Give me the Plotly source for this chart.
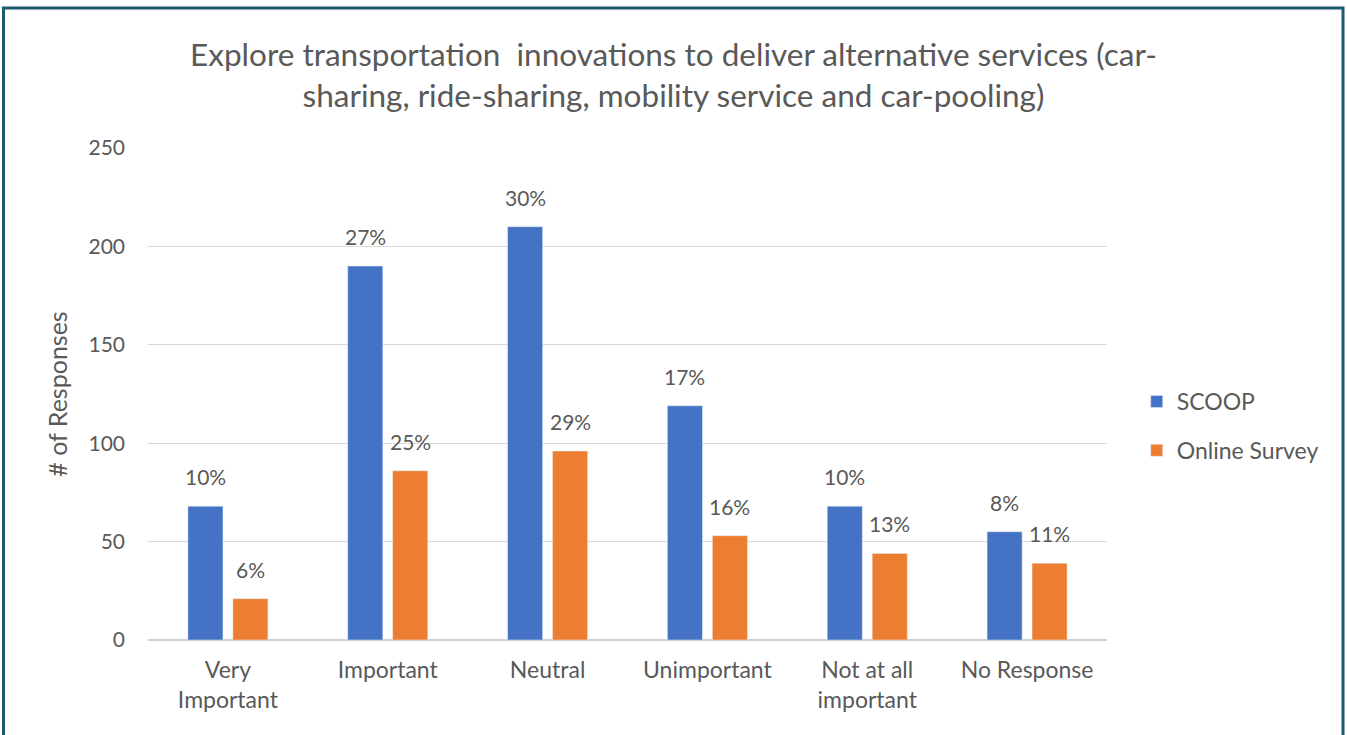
import plotly.graph_objects as go

categories = ["Very<br>Important", "Important", "Neutral", "Unimportant", "Not at all<br>important", "No Response"]
scoop = [68, 190, 210, 119, 68, 55]
online = [21, 86, 96, 53, 44, 39]
scoop_pct = ["10%", "27%", "30%", "17%", "10%", "8%"]
online_pct = ["6%", "25%", "29%", "16%", "13%", "11%"]

BLUE = "#4472C4"
ORANGE = "#ED7D31"
GRAY = "#595959"
FONT = "Lato, Carlito, Calibri, sans-serif"

fig = go.Figure()
fig.add_trace(go.Bar(x=categories, y=scoop, name="SCOOP", marker_color=BLUE, legendgroup="a"))
fig.add_trace(go.Bar(x=categories, y=online, name="Online Survey", marker_color=ORANGE, legendgroup="b"))

ann = []
for c, v, t in zip(categories, scoop, scoop_pct):
    ann.append(dict(x=c, y=v, text=t, xshift=-22.5, yshift=15, yanchor="bottom", showarrow=False,
                    font=dict(size=21, color=GRAY, family=FONT)))
for c, v, t in zip(categories, online, online_pct):
    ann.append(dict(x=c, y=v, text=t, xshift=22.5, yshift=15, yanchor="bottom", showarrow=False,
                    font=dict(size=21, color=GRAY, family=FONT)))

fig.update_layout(
    width=1347, height=735,
    margin=dict(l=148, r=240, t=148, b=95),
    paper_bgcolor="white", plot_bgcolor="white",
    font=dict(family=FONT, color=GRAY, size=21),
    title=dict(text="Explore transportation  innovations to deliver alternative services (car-<br>sharing, ride-sharing, mobility service and car-pooling)",
               x=0.5, xanchor="center", y=0.91, yanchor="middle",
               font=dict(size=31.5, color=GRAY, family=FONT)),
    barmode="group", bargap=0.4375, bargroupgap=0.22,
    legend=dict(x=1.031, y=0.435, xanchor="left", yanchor="middle", font=dict(size=23, color=GRAY),
                tracegroupgap=16, bgcolor="rgba(0,0,0,0)"),
    annotations=ann,
    shapes=[dict(type="rect", xref="paper", yref="paper",
                 x0=(3.5 - 148) / 959, x1=(1343 - 148) / 959,
                 y0=(640 - 745) / 492, y1=(640 - 8) / 492,
                 line=dict(color="#1F5A72", width=3), layer="above")],
)
fig.update_yaxes(range=[0, 250], dtick=50, showgrid=True, gridcolor="#D9D9D9", gridwidth=1,
                 zeroline=True, zerolinecolor="#D0D0D0", zerolinewidth=1.5, showline=False,
                 ticklabelstandoff=22, tickfont=dict(size=21, color=GRAY),
                 title=dict(text="# of Responses", font=dict(size=25, color=GRAY), standoff=13))
fig.update_xaxes(showline=False, tickfont=dict(size=23, color=GRAY), ticklabelstandoff=14)

fig.write_html("out.html", config={"displayModeBar": False},
               post_script="document.body.style.margin='0';")
